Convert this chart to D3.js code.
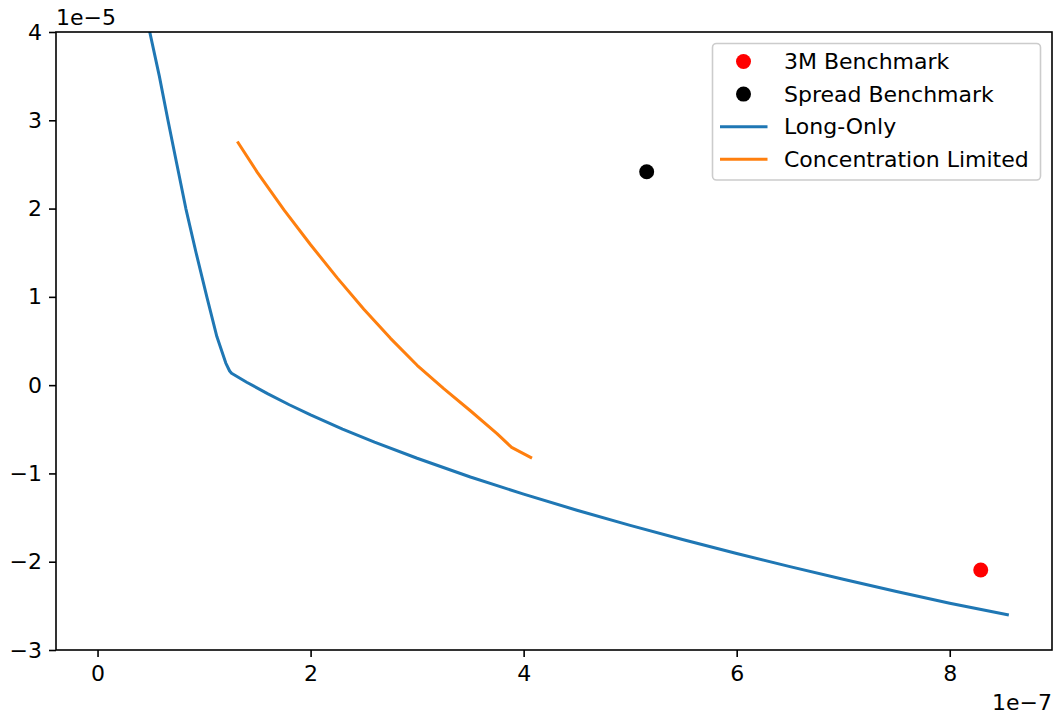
<!DOCTYPE html>
<html>
<head>
<meta charset="utf-8">
<script src="https://cdn.jsdelivr.net/npm/d3@7"></script>
<style>
  body { margin: 0; background: #fff; }
  svg { font-family: "DejaVu Sans", sans-serif; }
</style>
</head>
<body>
<svg id="chart"></svg>
<script>
// x values in units of 1e-7, y values in units of 1e-5
var longOnlyX = [0.418, 0.49, 0.58, 0.661, 0.745, 0.829, 0.925, 1.026, 1.12, 1.204, 1.24, 1.258,
                 1.4, 1.6, 1.8, 2.0, 2.3, 2.6, 3.0, 3.5, 4.0, 4.5, 5.0, 5.5, 6.0, 6.5, 7.0, 7.5, 8.0, 8.541];
var longOnlyY = [4.5, 4.0, 3.5, 3.0, 2.5, 2.0, 1.5, 1.0, 0.55, 0.25, 0.16, 0.134,
                 0.033, -0.099, -0.222, -0.337, -0.497, -0.645, -0.828, -1.04, -1.235, -1.417, -1.589, -1.752, -1.907, -2.056, -2.199, -2.337, -2.47, -2.6];

var concX = [1.32, 1.5, 1.75, 2.0, 2.25, 2.5, 2.75, 3.0, 3.25, 3.5, 3.75, 3.887, 4.066];
var concY = [2.745, 2.41, 1.985, 1.59, 1.215, 0.86, 0.53, 0.225, -0.04, -0.29, -0.55, -0.705, -0.818];

var benchmarks = [
  {name: '3M Benchmark', x: 8.291, y: -2.094, color: 'red'},
  {name: 'Spread Benchmark', x: 5.155, y: 2.417, color: 'black'}
];
var series = [
  {name: 'Long-Only', xs: longOnlyX, ys: longOnlyY, color: '#1f77b4'},
  {name: 'Concentration Limited', xs: concX, ys: concY, color: '#ff7f0e'}
];

var xTicks = [0, 2, 4, 6, 8];
var yTicks = [-3, -2, -1, 0, 1, 2, 3, 4];

var width = 1055, height = 714;
var m = {left: 56, right: 1052, top: 32, bottom: 650};
var fontSize = '22px';

var svg = d3.select('#chart')
  .attr('width', width)
  .attr('height', height);

var x = d3.scaleLinear()
  .domain([-0.39, 8.96])
  .range([m.left, m.right]);

var y = d3.scaleLinear()
  .domain([-3, 4])
  .range([m.bottom, m.top]);

svg.append('clipPath')
  .attr('id', 'plot-clip')
  .append('rect')
  .attr('x', m.left).attr('y', m.top)
  .attr('width', m.right - m.left).attr('height', m.bottom - m.top);

var line = d3.line()
  .x((d) => x(d[0]))
  .y((d) => y(d[1]));

var plot = svg.append('g').attr('clip-path', 'url(#plot-clip)');

for (var s = 0; s < series.length; s++) {
  var sr = series[s];
  var pts = sr.xs.map((v, i) => [v, sr.ys[i]]);
  plot.append('path')
    .datum(pts)
    .attr('d', line)
    .style('fill', 'none')
    .style('stroke', sr.color)
    .style('stroke-width', 3)
    .style('stroke-linejoin', 'round')
    .style('stroke-linecap', 'square');
}

plot.selectAll('circle.bench')
  .data(benchmarks)
  .enter().append('circle')
  .attr('class', 'bench')
  .attr('cx', (d) => x(d.x))
  .attr('cy', (d) => y(d.y))
  .attr('r', 7.5)
  .style('fill', (d) => d.color);

// axes
var xAxis = d3.axisBottom(x).tickValues(xTicks).tickSize(7).tickPadding(7).tickFormat(d3.format('d'));
var yAxis = d3.axisLeft(y).tickValues(yTicks).tickSize(7).tickPadding(7).tickFormat(d3.format('d'));

var gx = svg.append('g')
  .attr('transform', 'translate(0,' + m.bottom + ')')
  .call(xAxis);
var gy = svg.append('g')
  .attr('transform', 'translate(' + m.left + ',0)')
  .call(yAxis);

[gx, gy].forEach(function(g) {
  g.select('.domain').remove();
  g.selectAll('.tick line').attr('stroke', '#000').attr('stroke-width', 1.6);
  g.selectAll('.tick text').attr('fill', '#000').style('font-size', fontSize).style('font-family', '"DejaVu Sans", sans-serif');
});
gx.selectAll('.tick text').attr('dy', '0.76em');

svg.append('rect')
  .attr('x', m.left).attr('y', m.top)
  .attr('width', m.right - m.left).attr('height', m.bottom - m.top)
  .style('fill', 'none')
  .style('stroke', '#000')
  .style('stroke-width', 1.6);

// offset labels
svg.append('text')
  .attr('x', m.left).attr('y', 25)
  .style('font-size', fontSize)
  .text('1e\u22125');
svg.append('text')
  .attr('x', m.right).attr('y', 710)
  .attr('text-anchor', 'end')
  .style('font-size', fontSize)
  .text('1e\u22127');

// legend
var legend = svg.append('g');
legend.append('rect')
  .attr('x', 712.5).attr('y', 43.5)
  .attr('width', 328).attr('height', 136.5)
  .attr('rx', 4)
  .style('fill', '#fff')
  .style('fill-opacity', 0.8)
  .style('stroke', '#cccccc')
  .style('stroke-width', 1.6);

var rows = benchmarks.map((d) => ({name: d.name, color: d.color, kind: 'dot'}))
  .concat(series.map((d) => ({name: d.name, color: d.color, kind: 'line'})));

for (var i = 0; i < rows.length; i++) {
  var cy = 61.5 + i * 32.6;
  var row = rows[i];
  if (row.kind == 'dot') {
    legend.append('circle')
      .attr('cx', 743.5).attr('cy', cy)
      .attr('r', 7.5)
      .style('fill', row.color);
  } else {
    legend.append('line')
      .attr('x1', 720).attr('x2', 767.5)
      .attr('y1', cy).attr('y2', cy)
      .style('stroke', row.color)
      .style('stroke-width', 3);
  }
  legend.append('text')
    .attr('x', 784).attr('y', cy + 7.5)
    .style('font-size', fontSize)
    .text(row.name);
}
</script>
</body>
</html>
